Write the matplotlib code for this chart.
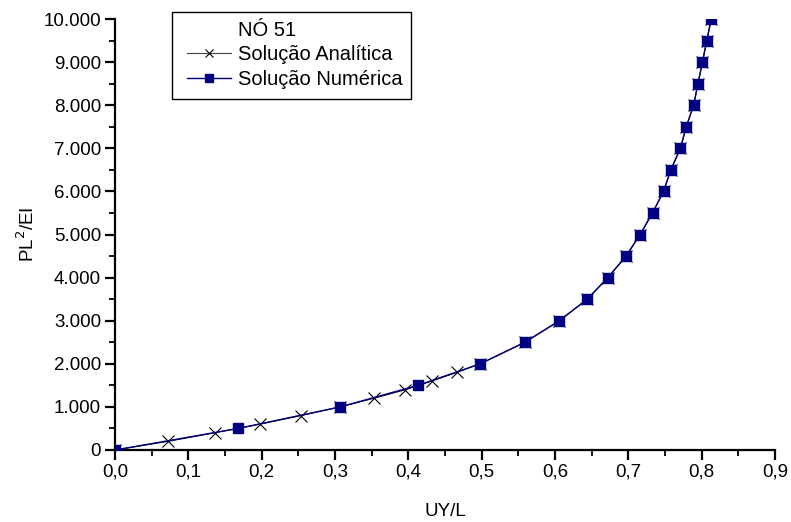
import matplotlib
matplotlib.use("Agg")
import matplotlib.pyplot as plt
from matplotlib.ticker import FuncFormatter, MultipleLocator
from matplotlib.lines import Line2D
from matplotlib.patches import Rectangle

plt.rcParams['font.family'] = ['Liberation Sans', 'DejaVu Sans']

# analytic solution
ana_uy = [0.0, 0.072, 0.136, 0.198, 0.254, 0.307, 0.353, 0.396, 0.432, 0.466, 0.498,
          0.559, 0.606, 0.644, 0.672, 0.697, 0.716, 0.733, 0.748, 0.758, 0.771,
          0.779, 0.789, 0.795, 0.801, 0.807, 0.813]
ana_p = [0, 200, 400, 600, 800, 1000, 1200, 1400, 1600, 1800, 2000,
         2500, 3000, 3500, 4000, 4500, 5000, 5500, 6000, 6500, 7000,
         7500, 8000, 8500, 9000, 9500, 10000]

# numerical solution
num_uy = [0.0, 0.168, 0.307, 0.413, 0.498, 0.559, 0.606, 0.644, 0.672, 0.697, 0.716,
          0.733, 0.748, 0.758, 0.771, 0.779, 0.789, 0.795, 0.801, 0.807, 0.813]
num_p = [0, 500, 1000, 1500, 2000, 2500, 3000, 3500, 4000, 4500, 5000,
         5500, 6000, 6500, 7000, 7500, 8000, 8500, 9000, 9500, 10000]

FS = 13.5
LEG_FS = 14.5
W, H = 791, 522

fig = plt.figure(figsize=(W / 100, H / 100), dpi=100)
ax = fig.add_axes([115 / W, 1 - 450 / H, 660 / W, 431 / H])

ax.plot(ana_uy, ana_p, color='black', linewidth=0.8, marker='x', markersize=9,
        markeredgewidth=0.8, zorder=2)
ax.plot(num_uy, num_p, color='#000080', linewidth=1.0, marker='s', markersize=7,
        markerfacecolor='#000080', markeredgecolor='#000080', zorder=3)

ax.set_xlim(0, 0.9)
ax.set_ylim(0, 10000)
ax.xaxis.set_major_locator(MultipleLocator(0.1))
ax.xaxis.set_minor_locator(MultipleLocator(0.05))
ax.yaxis.set_major_locator(MultipleLocator(1000))
ax.yaxis.set_minor_locator(MultipleLocator(500))
ax.xaxis.set_major_formatter(FuncFormatter(lambda v, p: f"{v:.1f}".replace('.', ',')))
ax.yaxis.set_major_formatter(FuncFormatter(lambda v, p: f"{int(round(v)):,}".replace(',', '.')))

for side in ['top', 'right']:
    ax.spines[side].set_visible(False)
for side in ['left', 'bottom']:
    ax.spines[side].set_linewidth(1.6)
ax.tick_params(which='major', direction='out', length=7, width=1.6, labelsize=FS, pad=3)
ax.tick_params(which='minor', direction='out', length=4, width=1.3)

ax.set_xlabel('UY/L', fontsize=FS, labelpad=16)
ax.set_ylabel('PL$^2$/EI', fontsize=FS, labelpad=4)

# title row is an empty handle so its text lines up with the labels
handles = [
    Line2D([], [], linestyle='none'),
    Line2D([], [], color='#444444', linewidth=0.8, marker='x', markersize=6,
           markeredgewidth=0.8, markeredgecolor='black'),
    Line2D([], [], color='#000080', linewidth=1.0, marker='s', markersize=5.5),
]
leg = ax.legend(handles, ['NÓ 51', 'Solução Analítica', 'Solução Numérica'],
                loc='upper left', bbox_to_anchor=(187 / W, 1 - 21 / H),
                bbox_transform=fig.transFigure, fontsize=LEG_FS, frameon=False,
                handlelength=2.2, handletextpad=0.35, labelspacing=0.27,
                borderpad=0, borderaxespad=0)

# legend frame
fig.patches.append(Rectangle((172 / W, 1 - 99 / H), 239 / W, 87 / H,
                             transform=fig.transFigure, fill=False,
                             edgecolor='black', linewidth=1.0, zorder=5))

fig.savefig('out.png', dpi=100)
